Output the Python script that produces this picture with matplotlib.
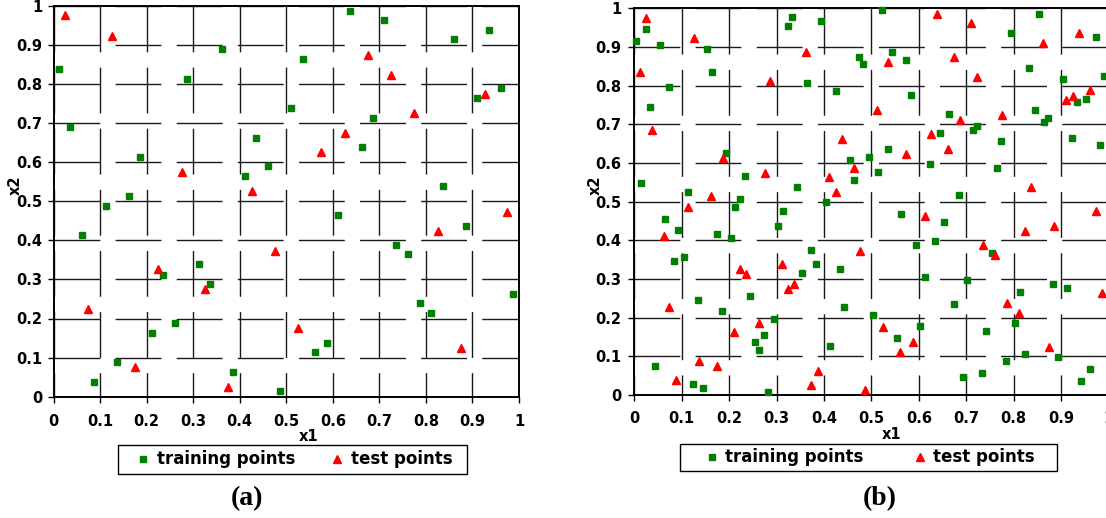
import matplotlib
matplotlib.use('Agg')
import matplotlib.pyplot as plt
from matplotlib.patches import Rectangle
from matplotlib.lines import Line2D

W, H, DPI = 1106, 518, 100

# ---- (a) 40 training points, 20 test points ----
train_a_x = [0.012, 0.361, 0.287, 0.035, 0.186, 0.436, 0.411, 0.461, 0.113, 0.162,
             0.510, 0.637, 0.711, 0.936, 0.861, 0.536, 0.962, 0.910, 0.687, 0.662,
             0.836, 0.061, 0.236, 0.312, 0.336, 0.262, 0.212, 0.137, 0.088, 0.386,
             0.487, 0.612, 0.886, 0.736, 0.762, 0.987, 0.787, 0.812, 0.588, 0.561]
train_a_y = [0.838, 0.888, 0.813, 0.689, 0.614, 0.662, 0.564, 0.589, 0.488, 0.513,
             0.739, 0.987, 0.963, 0.939, 0.914, 0.863, 0.790, 0.763, 0.714, 0.639,
             0.538, 0.414, 0.312, 0.339, 0.288, 0.188, 0.164, 0.088, 0.038, 0.063,
             0.015, 0.465, 0.437, 0.389, 0.364, 0.263, 0.239, 0.213, 0.138, 0.114]
test_a_x = [0.025, 0.125, 0.275, 0.426, 0.675, 0.724, 0.926, 0.775, 0.626, 0.574,
            0.476, 0.224, 0.325, 0.074, 0.175, 0.374, 0.975, 0.825, 0.525, 0.875]
test_a_y = [0.975, 0.923, 0.574, 0.526, 0.874, 0.823, 0.773, 0.725, 0.674, 0.625,
            0.373, 0.326, 0.275, 0.225, 0.077, 0.026, 0.473, 0.424, 0.175, 0.124]

# ---- (b) 100 training points, 60 test points ----
train_b_x = [0.024, 0.004, 0.054, 0.073, 0.034, 0.153, 0.164, 0.333, 0.324, 0.393,
             0.364, 0.425, 0.193, 0.014, 0.234, 0.344, 0.404, 0.113, 0.223, 0.213,
             0.313, 0.064, 0.093, 0.174, 0.203, 0.304, 0.084, 0.104, 0.373, 0.384,
             0.434, 0.353, 0.243, 0.134, 0.443, 0.184, 0.294, 0.274, 0.254, 0.264,
             0.413, 0.044, 0.124, 0.144, 0.283, 0.523, 0.853, 0.794, 0.973, 0.474,
             0.483, 0.543, 0.573, 0.832, 0.904, 0.991, 0.583, 0.933, 0.953, 0.664,
             0.844, 0.872, 0.863, 0.723, 0.714, 0.644, 0.924, 0.983, 0.774, 0.534,
             0.494, 0.454, 0.463, 0.513, 0.624, 0.764, 0.684, 0.563, 0.653, 0.593,
             0.634, 0.754, 0.613, 0.702, 0.884, 0.913, 0.813, 0.674, 0.503, 0.803,
             0.603, 0.742, 0.555, 0.824, 0.893, 0.784, 0.734, 0.694, 0.962, 0.943]
train_b_y = [0.946, 0.915, 0.905, 0.797, 0.746, 0.896, 0.836, 0.977, 0.955, 0.966,
             0.806, 0.785, 0.625, 0.547, 0.566, 0.538, 0.500, 0.526, 0.508, 0.485,
             0.477, 0.455, 0.427, 0.416, 0.405, 0.437, 0.346, 0.356, 0.375, 0.338,
             0.326, 0.316, 0.256, 0.246, 0.228, 0.218, 0.197, 0.156, 0.137, 0.116,
             0.127, 0.076, 0.028, 0.017, 0.007, 0.996, 0.985, 0.935, 0.927, 0.875,
             0.856, 0.886, 0.866, 0.846, 0.816, 0.825, 0.776, 0.757, 0.766, 0.727,
             0.736, 0.717, 0.705, 0.696, 0.686, 0.677, 0.665, 0.646, 0.656, 0.637,
             0.616, 0.607, 0.557, 0.576, 0.597, 0.587, 0.517, 0.467, 0.447, 0.388,
             0.397, 0.366, 0.306, 0.297, 0.286, 0.277, 0.266, 0.236, 0.206, 0.187,
             0.178, 0.166, 0.147, 0.107, 0.097, 0.088, 0.058, 0.047, 0.066, 0.036]
test_b_x = [0.025, 0.012, 0.037, 0.125, 0.362, 0.287, 0.437, 0.186, 0.275, 0.411,
            0.426, 0.162, 0.113, 0.062, 0.311, 0.223, 0.236, 0.337, 0.325, 0.074,
            0.263, 0.211, 0.137, 0.174, 0.088, 0.387, 0.373, 0.638, 0.711, 0.937,
            0.861, 0.536, 0.674, 0.723, 0.910, 0.925, 0.962, 0.511, 0.687, 0.775,
            0.625, 0.661, 0.574, 0.463, 0.837, 0.974, 0.612, 0.824, 0.886, 0.475,
            0.736, 0.761, 0.987, 0.787, 0.812, 0.524, 0.587, 0.561, 0.874, 0.486]
test_b_y = [0.974, 0.836, 0.685, 0.924, 0.886, 0.811, 0.661, 0.612, 0.573, 0.563,
            0.525, 0.514, 0.487, 0.412, 0.338, 0.326, 0.313, 0.288, 0.275, 0.227,
            0.187, 0.164, 0.087, 0.076, 0.039, 0.063, 0.027, 0.985, 0.961, 0.937,
            0.911, 0.861, 0.873, 0.823, 0.763, 0.774, 0.788, 0.736, 0.711, 0.725,
            0.675, 0.636, 0.624, 0.588, 0.538, 0.476, 0.463, 0.425, 0.437, 0.373,
            0.388, 0.362, 0.263, 0.237, 0.211, 0.176, 0.138, 0.112, 0.125, 0.013]

tick_vals = [0, 0.1, 0.2, 0.3, 0.4, 0.5, 0.6, 0.7, 0.8, 0.9, 1]
tick_labels = ['0', '0.1', '0.2', '0.3', '0.4', '0.5', '0.6', '0.7', '0.8', '0.9', '1']

GREEN = '#008000'
RED = '#ff0000'
DASH_ON, DASH_OFF = 33.0, 11.0   # points, long-dash grid


def px(v):
    return v * 72.0 / DPI


def panel(rect, tx, ty, sx, sy, xpad, ypad):
    left, top, right, bottom = rect
    ax = fig.add_axes([left / W, 1 - bottom / H, (right - left) / W, (bottom - top) / H])
    ax.plot(tx, ty, 's', color=GREEN, mec=GREEN, ms=5, clip_on=False, zorder=3,
            label='training points')
    ax.plot(sx, sy, '^', color=RED, mec=RED, ms=5.6, clip_on=False, zorder=4,
            label='test points')
    ax.set_xlim(0, 1)
    ax.set_ylim(0, 1)
    ax.set_xticks(tick_vals)
    ax.set_xticklabels(tick_labels, fontsize=10.5, fontweight='bold')
    ax.set_yticks(tick_vals)
    ax.set_yticklabels(tick_labels, fontsize=10.5, fontweight='bold')
    ax.tick_params(direction='out', length=4, width=1, colors='black')
    ax.tick_params(axis='x', pad=xpad)
    ax.tick_params(axis='y', pad=ypad)

    # dashes run down from the top edge on the vertical lines
    period = DASH_ON + DASH_OFF
    height_pt = px(bottom - top)
    v_off = (DASH_ON - height_pt % period) % period
    ax.yaxis.grid(True, color='#1a1a1a', lw=1.0, linestyle=(0, (DASH_ON, DASH_OFF)))
    ax.xaxis.grid(True, color='#1a1a1a', lw=1.0, linestyle=(v_off, (DASH_ON, DASH_OFF)))
    ax.set_axisbelow(True)
    for s in ax.spines.values():
        s.set_linewidth(1.4)
        s.set_color('black')
    return ax


fig = plt.figure(figsize=(W / DPI, H / DPI), dpi=DPI)

ax_a = panel((53.5, 5.7, 519, 396.7), train_a_x, train_a_y, test_a_x, test_a_y, 8.6, 4.0)
ax_b = panel((634.3, 8.3, 1108.5, 395), train_b_x, train_b_y, test_b_x, test_b_y, 7.2, 5.5)

for ax, lx, ly in [(ax_a, 0.547, -0.103), (ax_b, 0.543, -0.103)]:
    ax.set_xlabel('x1', fontsize=10.5, fontweight='bold', va='center')
    ax.xaxis.set_label_coords(lx, ly)
    ax.set_ylabel('x2', fontsize=10.5, fontweight='bold', va='center', ha='center')
    ax.yaxis.set_label_coords(-0.083, 0.542)

# legends: frame box + handles/text
handles = [Line2D([], [], ls='none', marker='s', color=GREEN, ms=4.5),
           Line2D([], [], ls='none', marker='^', color=RED, ms=5.2)]
names = ['training points', 'test points']
f_px = 12 * DPI / 72.0
for (bx0, by0, bx1, by1), m1, tpad, cs in [((118, 445, 467, 474), 143, 0.34, 2.02),
                                           ((680, 444, 1057, 471), 711.7, 0.28, 2.9)]:
    fig.patches.append(Rectangle((bx0 / W, 1 - by1 / H), (bx1 - bx0) / W, (by1 - by0) / H,
                                 transform=fig.transFigure, fill=False, ec='black', lw=1.0))
    anchor_x = (m1 - 0.5 * f_px) / W
    anchor_y = 1 - (by0 + by1) / 2 / H
    fig.legend(handles, names, loc='center left', bbox_to_anchor=(anchor_x, anchor_y),
               ncol=2, frameon=False, borderpad=0, borderaxespad=0, handlelength=1.0,
               handletextpad=tpad, columnspacing=cs,
               prop={'weight': 'bold', 'size': 12})

fig.text(247 / W, 1 - 499 / H, '(a)', fontsize=20, fontweight='bold',
         family='Liberation Serif', ha='center', va='center')
fig.text(880 / W, 1 - 499 / H, '(b)', fontsize=20, fontweight='bold',
         family='Liberation Serif', ha='center', va='center')

fig.savefig('out.png', dpi=DPI, facecolor='white')
